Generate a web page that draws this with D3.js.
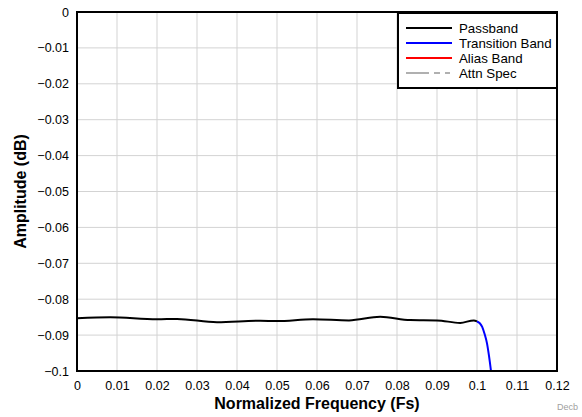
<!DOCTYPE html>
<html>
<head>
<meta charset="utf-8">
<script src="https://cdn.jsdelivr.net/npm/d3@7"></script>
<style>
  body { margin: 0; background: #fff; }
  text { font-family: "Liberation Sans", Arial, sans-serif; }
</style>
</head>
<body>
<div id="chart-area"></div>
<script>
// Data
const passFreq = [0, 0.0083, 0.02, 0.025, 0.035, 0.0458, 0.05, 0.059, 0.068, 0.0758, 0.0833, 0.09, 0.0958, 0.0992, 0.1]
const passAmp = [-0.0853, -0.0850, -0.0856, -0.0855, -0.0864, -0.0860, -0.0861, -0.0856, -0.0859, -0.0849, -0.0858, -0.0859, -0.0866, -0.0859, -0.0862]
const transFreq = [0.1, 0.1007, 0.1013, 0.1019, 0.1025, 0.1030, 0.1035]
const transAmp = [-0.0862, -0.0867, -0.0877, -0.0897, -0.0923, -0.0958, -0.1]
const xTicks = [0, 0.01, 0.02, 0.03, 0.04, 0.05, 0.06, 0.07, 0.08, 0.09, 0.1, 0.11, 0.12]
const yTicks = [0, -0.01, -0.02, -0.03, -0.04, -0.05, -0.06, -0.07, -0.08, -0.09, -0.1]
const legendNames = ["Passband", "Transition Band", "Alias Band", "Attn Spec"]
const legendColors = ["#000000", "#0000ff", "#ff0000", "#b0b0b0"]

const MARGIN = {LEFT: 77, RIGHT: 25, TOP: 12, BOTTOM: 46}
const WIDTH = 582 - MARGIN.LEFT - MARGIN.RIGHT
const HEIGHT = 417 - MARGIN.TOP - MARGIN.BOTTOM

const svg = d3.select("#chart-area").append("svg")
    .attr("width", 582)
    .attr("height", 417)

const g = svg.append("g")
    .attr("transform", `translate(${MARGIN.LEFT}, ${MARGIN.TOP})`)

const x = d3.scaleLinear().domain([0, 0.12]).range([0, WIDTH])
const y = d3.scaleLinear().domain([-0.1, 0]).range([HEIGHT, 0])

// grid
g.append("g").selectAll("line").data(xTicks.slice(1, -1)).enter().append("line")
    .attr("x1", d => x(d)).attr("x2", d => x(d))
    .attr("y1", 0).attr("y2", HEIGHT)
    .attr("stroke", "#d3d3d3").attr("stroke-width", 1)
g.append("g").selectAll("line").data(yTicks.slice(1, -1)).enter().append("line")
    .attr("x1", 0).attr("x2", WIDTH)
    .attr("y1", d => y(d)).attr("y2", d => y(d))
    .attr("stroke", "#d3d3d3").attr("stroke-width", 1)

// axes (labels only)
const xAxisCall = d3.axisBottom(x).tickValues(xTicks).tickSize(0).tickPadding(10)
    .tickFormat(d => d3.format("")(+d.toFixed(2)))
g.append("g")
    .attr("transform", `translate(0, ${HEIGHT})`)
    .call(xAxisCall)
    .call(a => a.select(".domain").remove())
    .selectAll("text").attr("font-size", "12.5px").attr("fill", "#000")
    .attr("font-family", "Liberation Sans, Arial, sans-serif")

const yAxisCall = d3.axisLeft(y).tickValues(yTicks).tickSize(0).tickPadding(8)
    .tickFormat(d => d3.format("")(+d.toFixed(2)))
g.append("g")
    .call(yAxisCall)
    .call(a => a.select(".domain").remove())
    .selectAll("text").attr("font-size", "12.5px").attr("fill", "#000")
    .attr("font-family", "Liberation Sans, Arial, sans-serif")

// curves
const line = d3.line()
    .x(d => x(d[0]))
    .y(d => y(d[1]))
    .curve(d3.curveMonotoneX)

g.append("path")
    .datum(passFreq.map((f, i) => [f, passAmp[i]]))
    .attr("d", line)
    .attr("fill", "none").attr("stroke", "#000").attr("stroke-width", 2)

g.append("path")
    .datum(transFreq.map((f, i) => [f, transAmp[i]]))
    .attr("d", line)
    .attr("fill", "none").attr("stroke", "#0000ff").attr("stroke-width", 2)

// plot border
g.append("rect")
    .attr("x", 0).attr("y", 0)
    .attr("width", WIDTH).attr("height", HEIGHT)
    .attr("fill", "none").attr("stroke", "#000").attr("stroke-width", 2)

// legend
const leg = g.append("g").attr("transform", `translate(${WIDTH - 159}, 1)`)
leg.append("rect")
    .attr("x", 0).attr("y", 0).attr("width", 159).attr("height", 75)
    .attr("fill", "#fff").attr("stroke", "#000").attr("stroke-width", 2)
legendNames.forEach((name, i) => {
    const ly = 15 + i * 15
    leg.append("line")
        .attr("x1", 8).attr("x2", 54)
        .attr("y1", ly).attr("y2", ly)
        .attr("stroke", legendColors[i]).attr("stroke-width", 2)
        .attr("stroke-dasharray", i === 3 ? "23,5,6,5,5" : null)
    leg.append("text")
        .attr("x", 61).attr("y", ly + 4.5)
        .attr("font-size", "13.3px")
        .text(name)
})

// X label
g.append("text")
    .attr("x", WIDTH / 2)
    .attr("y", HEIGHT + 38)
    .attr("font-size", "16px")
    .attr("font-weight", "bold")
    .attr("text-anchor", "middle")
    .text("Normalized Frequency (Fs)")

// Y label
g.append("text")
    .attr("x", -(HEIGHT / 2))
    .attr("y", -51)
    .attr("font-size", "16px")
    .attr("font-weight", "bold")
    .attr("text-anchor", "middle")
    .attr("transform", "rotate(-90)")
    .text("Amplitude (dB)")

svg.append("text")
    .attr("x", 578).attr("y", 410)
    .attr("font-size", "9px")
    .attr("fill", "#a0a0a0")
    .attr("text-anchor", "end")
    .text("Decb")
</script>
</body>
</html>
